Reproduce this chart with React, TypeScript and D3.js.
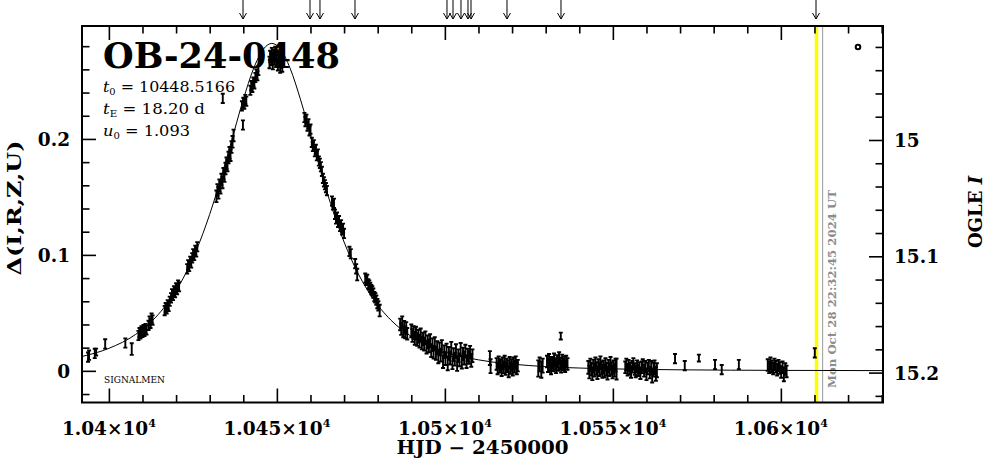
import React, { useEffect, useRef } from 'react';
import * as d3 from 'd3';

type Pt = [number, number, number]; // HJD-2450000, delta flux, sigma

// axis data
const xDomain = [10392, 10630.4];
const deltaDomain = [-0.0273, 0.2974];
const magDomain = [14.902, 15.2257];
const xMajor = [10400, 10450, 10500, 10550, 10600];
const xMajorLabels = ['1.04', '1.045', '1.05', '1.055', '1.06'];
const deltaMajor = [0, 0.1, 0.2];
const deltaLabels = ['0', '0.1', '0.2'];
const magMajor = [15.0, 15.1, 15.2];
const magLabels = ['15', '15.1', '15.2'];

const alertHjd = [10439.92, 10459.86, 10462.83, 10473.25, 10500.63, 10502.42, 10504.8, 10506.88, 10507.78, 10518.49, 10534.56, 10610.46];
const lastObsHjd = 10610.6;
const nowHjd = 10612.44;

const eventName = 'OB-24-0448';
const t0Text = '10448.5166';
const tEText = '18.20';
const u0Text = '1.093';
const stampText = 'Mon Oct 28 22:32:45 2024 UT';

// model light curve
const modelHjd = [10392, 10400, 10408, 10414, 10420, 10424, 10428, 10432, 10436, 10440, 10443, 10446, 10448.5, 10451, 10454, 10457, 10461, 10465, 10469, 10473, 10478, 10484, 10490, 10500, 10510, 10525, 10545, 10570, 10600, 10630.4];
const modelDelta = [0.0124, 0.0194, 0.0315, 0.0464, 0.0692, 0.0907, 0.1185, 0.153, 0.193, 0.234, 0.2602, 0.2775, 0.2824, 0.2777, 0.2605, 0.2343, 0.1933, 0.1533, 0.1187, 0.0909, 0.0649, 0.0436, 0.0297, 0.0163, 0.0095, 0.0046, 0.002, 0.0009, 0.0004, 0.0002];

const riseEarly: Pt[] = [
  [10393.8, 0.0118, 0.004], [10394.1, 0.0135, 0.004], [10395.8, 0.015, 0.004], [10396.2, 0.0162, 0.003],
  [10398.9, 0.0232, 0.004], [10404.9, 0.024, 0.004], [10406.8, 0.0188, 0.005],
  [10408.8, 0.0305, 0.004], [10409.1, 0.033, 0.004], [10409.4, 0.0318, 0.004], [10409.7, 0.0345, 0.004],
  [10410.0, 0.0332, 0.004], [10410.3, 0.0356, 0.004], [10410.6, 0.034, 0.004], [10410.9, 0.0365, 0.004],
  [10411.2, 0.0352, 0.004], [10411.8, 0.0392, 0.004], [10412.1, 0.043, 0.004], [10412.4, 0.041, 0.004],
  [10412.7, 0.0455, 0.004], [10413.0, 0.0438, 0.004],
];

const riseMid: Pt[] = [
  [10416.6, 0.052, 0.004], [10416.9, 0.0545, 0.004], [10417.2, 0.0535, 0.004], [10417.5, 0.057, 0.004],
  [10417.8, 0.0555, 0.004], [10418.1, 0.06, 0.004], [10418.5, 0.063, 0.004], [10418.8, 0.0665, 0.004],
  [10419.1, 0.065, 0.004], [10419.4, 0.069, 0.004], [10419.7, 0.0675, 0.004], [10420.0, 0.0715, 0.004],
  [10420.3, 0.07, 0.004], [10420.6, 0.074, 0.004], [10420.9, 0.0725, 0.004],
  [10423.3, 0.088, 0.004], [10423.6, 0.0915, 0.004], [10423.9, 0.09, 0.004], [10424.2, 0.0945, 0.004],
  [10424.5, 0.093, 0.004], [10424.8, 0.0975, 0.004], [10425.1, 0.101, 0.004], [10425.4, 0.0995, 0.004],
  [10425.7, 0.104, 0.004], [10426.0, 0.1025, 0.004], [10426.3, 0.107, 0.004],
];

const riseLate: Pt[] = [
  [10432.0, 0.1505, 0.005], [10432.3, 0.156, 0.005], [10432.6, 0.1535, 0.005], [10432.9, 0.16, 0.005],
  [10433.2, 0.158, 0.005], [10433.5, 0.165, 0.005], [10433.8, 0.1625, 0.005], [10434.1, 0.17, 0.005],
  [10434.4, 0.168, 0.005], [10434.7, 0.1745, 0.005], [10435.0, 0.179, 0.005], [10435.3, 0.177, 0.005],
  [10435.6, 0.184, 0.005], [10435.9, 0.188, 0.005], [10436.2, 0.186, 0.005], [10436.5, 0.193, 0.005],
  [10436.8, 0.1975, 0.005], [10437.1, 0.203, 0.005], [10433.9, 0.235, 0.004],
  [10439.6, 0.2285, 0.004], [10439.9, 0.212, 0.004], [10440.0, 0.2315, 0.004], [10440.3, 0.23, 0.004],
  [10440.6, 0.234, 0.004], [10440.9, 0.2325, 0.004],
  [10442.1, 0.242, 0.004], [10442.4, 0.246, 0.004], [10442.7, 0.2445, 0.004], [10443.0, 0.249, 0.004],
  [10443.3, 0.2475, 0.004], [10443.6, 0.253, 0.004], [10443.9, 0.256, 0.004], [10444.2, 0.2545, 0.004],
  [10444.5, 0.259, 0.004],
];

const peak: Pt[] = [
  [10447.8, 0.266, 0.005], [10448.0, 0.271, 0.005], [10448.3, 0.2685, 0.005], [10448.5, 0.2735, 0.005],
  [10448.8, 0.265, 0.005], [10449.0, 0.272, 0.005], [10449.3, 0.269, 0.005], [10449.5, 0.2745, 0.005],
  [10449.8, 0.267, 0.005], [10450.0, 0.2715, 0.005], [10450.3, 0.264, 0.005], [10450.5, 0.27, 0.005],
  [10450.8, 0.2675, 0.005], [10451.0, 0.262, 0.005], [10451.3, 0.2665, 0.005], [10451.6, 0.263, 0.005],
];

const fall: Pt[] = [
  [10458.2, 0.2185, 0.004], [10458.5, 0.215, 0.004], [10458.8, 0.217, 0.004], [10459.1, 0.211, 0.004],
  [10459.4, 0.213, 0.004], [10459.7, 0.207, 0.004], [10460.0, 0.2085, 0.004],
  [10460.4, 0.197, 0.004], [10460.7, 0.1935, 0.004], [10461.0, 0.195, 0.004], [10461.3, 0.189, 0.004],
  [10461.6, 0.191, 0.004], [10461.9, 0.1855, 0.004], [10462.2, 0.187, 0.004], [10462.5, 0.181, 0.004],
  [10462.8, 0.179, 0.004], [10463.1, 0.176, 0.004], [10463.4, 0.172, 0.004], [10463.7, 0.166, 0.004],
  [10464.0, 0.163, 0.004], [10464.3, 0.1605, 0.004], [10464.6, 0.158, 0.004], [10464.9, 0.1555, 0.004],
  [10466.4, 0.1465, 0.004], [10466.7, 0.143, 0.004], [10467.0, 0.1445, 0.004], [10467.3, 0.135, 0.004],
  [10467.6, 0.131, 0.004], [10467.9, 0.1325, 0.004], [10468.2, 0.128, 0.004], [10468.5, 0.1295, 0.004],
  [10468.8, 0.1245, 0.004], [10469.1, 0.126, 0.004], [10469.4, 0.1215, 0.004], [10469.7, 0.123, 0.004],
  [10470.0, 0.1185, 0.004],
  [10471.6, 0.103, 0.004], [10472.0, 0.101, 0.004], [10473.3, 0.0925, 0.004], [10473.6, 0.088, 0.004],
  [10473.9, 0.083, 0.005],
  [10476.3, 0.08, 0.004], [10476.6, 0.078, 0.004], [10476.9, 0.079, 0.004], [10477.2, 0.075, 0.004],
  [10477.5, 0.074, 0.004], [10477.8, 0.072, 0.004], [10478.1, 0.07, 0.004], [10478.4, 0.069, 0.004],
  [10478.7, 0.067, 0.004], [10479.0, 0.064, 0.004], [10479.3, 0.063, 0.004], [10479.6, 0.061, 0.004],
  [10479.9, 0.058, 0.004], [10480.2, 0.056, 0.004], [10480.6, 0.052, 0.005],
];

const tailNear: Pt[] = [
  [10486.7, 0.04, 0.005], [10487.0, 0.036, 0.005], [10487.3, 0.042, 0.005], [10487.6, 0.034, 0.005],
  [10487.9, 0.038, 0.005], [10488.2, 0.033, 0.005], [10488.5, 0.037, 0.005], [10488.8, 0.032, 0.005],
  [10490.0, 0.0345, 0.0055], [10490.35, 0.0305, 0.0055], [10490.7, 0.033, 0.0055], [10491.05, 0.028, 0.0055],
  [10491.4, 0.0325, 0.0055], [10491.75, 0.027, 0.0055], [10492.1, 0.03, 0.0055], [10492.45, 0.0255, 0.0055],
  [10492.8, 0.031, 0.0055], [10493.15, 0.024, 0.0055], [10493.5, 0.0275, 0.0055], [10493.85, 0.023, 0.0055],
  [10494.2, 0.0285, 0.0055], [10494.55, 0.0205, 0.0055], [10494.9, 0.025, 0.0055], [10495.25, 0.0215, 0.0055],
  [10495.6, 0.026, 0.0055], [10495.95, 0.0175, 0.0055], [10496.3, 0.0225, 0.0055], [10496.65, 0.016, 0.0055],
  [10497.0, 0.0235, 0.0055], [10497.35, 0.015, 0.0055], [10497.7, 0.02, 0.0055], [10498.05, 0.012, 0.0055],
  [10498.4, 0.019, 0.0055], [10498.75, 0.0135, 0.0055], [10499.1, 0.021, 0.0055], [10499.45, 0.008, 0.0055],
  [10499.8, 0.0165, 0.0055], [10500.15, 0.0105, 0.0055], [10500.5, 0.018, 0.0055], [10500.85, 0.006, 0.0055],
  [10501.2, 0.015, 0.0055], [10501.55, 0.011, 0.0055], [10501.9, 0.0195, 0.0055], [10502.25, 0.007, 0.0055],
  [10502.6, 0.014, 0.0055], [10502.95, 0.01, 0.0055], [10503.3, 0.0175, 0.0055], [10503.65, 0.0055, 0.0055],
  [10504.0, 0.013, 0.0055], [10504.35, 0.0095, 0.0055], [10504.7, 0.0185, 0.0055], [10505.05, 0.0075, 0.0055],
  [10505.4, 0.0145, 0.0055], [10505.75, 0.011, 0.0055], [10506.1, 0.017, 0.0055], [10506.45, 0.008, 0.0055],
  [10506.8, 0.0135, 0.0055], [10507.15, 0.0115, 0.0055], [10507.5, 0.016, 0.0055], [10507.85, 0.009, 0.0055],
  [10508.2, 0.013, 0.0055],
];

const tailFar: Pt[] = [
  [10513.4, 0.011, 0.006], [10513.6, 0.004, 0.006],
  [10515.4, 0.006, 0.005], [10515.7, 0.002, 0.005], [10516.0, 0.0075, 0.005], [10516.3, 0.0035, 0.005],
  [10516.6, 0.005, 0.005], [10516.9, 0.0005, 0.005], [10517.2, 0.0065, 0.005], [10517.5, 0.003, 0.005],
  [10517.8, 0.008, 0.005], [10518.1, 0.0015, 0.005], [10518.4, 0.0055, 0.005], [10518.7, 0.004, 0.005],
  [10519.0, -0.0005, 0.005], [10519.3, 0.007, 0.005], [10519.6, 0.0025, 0.005], [10519.9, 0.005, 0.005],
  [10520.2, 0.001, 0.005], [10520.5, 0.0065, 0.005], [10520.8, 0.0035, 0.005], [10521.1, 0.0075, 0.005],
  [10521.4, 0.002, 0.005], [10521.7, 0.0045, 0.005],
  [10527.8, 0.002, 0.007], [10528.2, 0.0055, 0.006], [10528.7, 0.001, 0.007], [10529.1, 0.0045, 0.006],
  [10530.4, 0.008, 0.005], [10530.7, 0.004, 0.005], [10531.0, 0.0095, 0.005], [10531.3, 0.0055, 0.005],
  [10531.6, 0.002, 0.005], [10531.9, 0.007, 0.005], [10532.2, 0.0045, 0.005], [10532.5, 0.01, 0.005],
  [10532.8, 0.006, 0.005], [10533.1, 0.003, 0.005], [10533.4, 0.0085, 0.005], [10533.7, 0.005, 0.005],
  [10534.0, 0.011, 0.005], [10534.3, 0.0065, 0.005], [10534.6, 0.0035, 0.005], [10534.9, 0.009, 0.005],
  [10535.2, 0.0055, 0.005], [10535.5, 0.0075, 0.005], [10535.8, 0.004, 0.005], [10536.1, 0.008, 0.005],
  [10536.5, 0.006, 0.005], [10534.5, 0.03, 0.003],
  [10542.7, 0.003, 0.0055], [10543.0, -0.001, 0.0055], [10543.3, 0.005, 0.0055], [10543.6, 0.0015, 0.0055],
  [10543.9, -0.0025, 0.0055], [10544.2, 0.004, 0.0055], [10544.5, 0.0005, 0.0055], [10544.8, 0.006, 0.0055],
  [10545.1, 0.002, 0.0055], [10545.4, -0.0015, 0.0055], [10545.7, 0.0045, 0.0055], [10546.0, 0.001, 0.0055],
  [10546.3, 0.007, 0.0055], [10546.6, 0.0025, 0.0055], [10546.9, -0.0005, 0.0055], [10547.2, 0.0035, 0.0055],
  [10547.5, 0.0, 0.0055], [10547.8, 0.0055, 0.0055], [10548.1, 0.0015, 0.0055], [10548.4, -0.002, 0.0055],
  [10548.7, 0.004, 0.0055], [10549.0, 0.001, 0.0055], [10549.3, 0.0065, 0.0055], [10549.6, 0.002, 0.0055],
  [10549.9, -0.001, 0.0055], [10550.2, 0.0035, 0.0055], [10550.5, 0.0005, 0.0055], [10550.8, 0.005, 0.0055],
  [10551.1, 0.0015, 0.009],
  [10553.7, 0.003, 0.005], [10554.0, 0.0055, 0.005], [10554.4, 0.001, 0.005], [10554.7, 0.0045, 0.005],
  [10555.1, 0.002, 0.005], [10555.4, -0.001, 0.005], [10555.8, 0.0035, 0.005], [10556.1, 0.006, 0.005],
  [10556.5, 0.0015, 0.005], [10556.8, -0.0005, 0.005], [10557.2, 0.004, 0.005], [10557.5, 0.0005, 0.005],
  [10557.9, 0.0025, 0.005], [10558.2, -0.002, 0.005], [10558.6, 0.003, 0.005], [10558.9, 0.005, 0.005],
  [10559.3, 0.0, 0.005], [10559.6, 0.0035, 0.005], [10560.0, -0.003, 0.005], [10560.3, 0.002, 0.005],
  [10560.7, 0.0045, 0.005], [10561.0, -0.0015, 0.005], [10561.4, 0.0025, 0.006], [10561.7, -0.004, 0.006],
  [10562.1, 0.001, 0.006], [10562.4, 0.003, 0.006], [10562.8, -0.0025, 0.006], [10563.1, 0.0005, 0.006],
  [10568.5, 0.0105, 0.004], [10571.4, 0.0045, 0.004], [10575.6, 0.011, 0.003], [10580.4, 0.0055, 0.004],
  [10582.4, 0.001, 0.004], [10587.5, 0.0055, 0.004],
  [10596.1, 0.005, 0.005], [10596.5, 0.003, 0.005], [10596.9, 0.0065, 0.005], [10597.3, 0.004, 0.005],
  [10597.7, 0.002, 0.005], [10598.1, 0.0055, 0.005], [10598.5, 0.0035, 0.005], [10598.9, 0.001, 0.005],
  [10599.3, 0.0045, 0.005], [10599.7, 0.0025, 0.005], [10600.1, -0.001, 0.005], [10600.5, 0.003, 0.005],
  [10600.9, -0.003, 0.006], [10601.3, 0.0015, 0.005], [10601.7, -0.0005, 0.005],
  [10610.1, 0.0155, 0.004],
];

const W = 986;
const H = 459;
const frame = { left: 82, right: 883, top: 26, bottom: 402.5 };
const serif = "'DejaVu Serif', 'Liberation Serif', serif";

const App: React.FC = () => {
  const svgRef = useRef<SVGSVGElement>(null);

  useEffect(() => {
    if (!svgRef.current) return;
    const svg = d3.select(svgRef.current);
    svg.selectAll('*').remove();

    const x = d3.scaleLinear().domain(xDomain).range([frame.left, frame.right]);
    const y = d3.scaleLinear().domain(deltaDomain).range([frame.bottom, frame.top]);
    const yMag = d3.scaleLinear().domain(magDomain).range([frame.top, frame.bottom]);

    svg.append('rect').attr('width', W).attr('height', H).attr('fill', '#fff');

    // highlight + "now" lines
    svg.append('line')
      .attr('x1', x(lastObsHjd)).attr('x2', x(lastObsHjd))
      .attr('y1', frame.top).attr('y2', frame.bottom)
      .attr('stroke', '#ffff00').attr('stroke-width', 3.5);
    svg.append('line')
      .attr('x1', x(nowHjd)).attr('x2', x(nowHjd))
      .attr('y1', frame.top).attr('y2', frame.bottom)
      .attr('stroke', '#999').attr('stroke-width', 1);

    svg.append('text')
      .attr('transform', `translate(836,388) rotate(-90)`)
      .attr('font-family', serif).attr('font-weight', 'bold').attr('font-size', 11.5)
      .attr('fill', '#8c8c8c')
      .attr('textLength', 198).attr('lengthAdjust', 'spacingAndGlyphs')
      .text(stampText);

    // title and parameters
    svg.append('text')
      .attr('x', 103).attr('y', 68)
      .attr('font-family', serif).attr('font-weight', 'bold').attr('font-size', 35)
      .attr('textLength', 237).attr('lengthAdjust', 'spacingAndGlyphs')
      .text(eventName);

    const params = [
      { sym: 't', sub: '0', val: ` = ${t0Text}`, y: 92, len: 132 },
      { sym: 't', sub: 'E', val: ` = ${tEText} d`, y: 114, len: 102 },
      { sym: 'u', sub: '0', val: ` = ${u0Text}`, y: 136, len: 87 },
    ];
    params.forEach(p => {
      const t = svg.append('text')
        .attr('x', 103).attr('y', p.y)
        .attr('font-family', serif).attr('font-size', 14.5)
        .attr('textLength', p.len).attr('lengthAdjust', 'spacingAndGlyphs');
      t.append('tspan').attr('font-style', 'italic').text(p.sym);
      t.append('tspan').attr('font-size', 9).attr('dy', 3).text(p.sub);
      t.append('tspan').attr('dy', -3).text(p.val);
    });

    svg.append('text')
      .attr('x', 104).attr('y', 383)
      .attr('font-family', serif).attr('font-size', 9.5)
      .attr('textLength', 61).attr('lengthAdjust', 'spacingAndGlyphs')
      .text('SIGNALMEN');

    // model curve
    const line = d3.line<number>()
      .x((_, i) => x(modelHjd[i]))
      .y(d => y(d))
      .curve(d3.curveMonotoneX);
    svg.append('path')
      .datum(modelDelta)
      .attr('fill', 'none')
      .attr('stroke', '#000')
      .attr('stroke-width', 1)
      .attr('d', line);

    // data with error bars
    const allPts = [...riseEarly, ...riseMid, ...riseLate, ...peak, ...fall, ...tailNear, ...tailFar];
    svg.append('g')
      .selectAll('path')
      .data(allPts)
      .join('path')
      .attr('fill', 'none')
      .attr('stroke', '#000')
      .attr('stroke-width', 1.9)
      .attr('d', d => {
        const cx = x(d[0]);
        const y1 = y(d[1] + d[2]);
        const y2 = y(d[1] - d[2]);
        return `M${cx - 2},${y1}H${cx + 2}M${cx},${y1}V${y2}M${cx - 2},${y2}H${cx + 2}`;
      });

    // axes: ticks inward, PGPLOT-style
    const major = 14;
    const minor = 7.5;
    const xMinor = d3.range(10400, 10631, 10).filter(v => !xMajor.includes(v));
    const dMinor = d3.range(-2, 29, 2).map(v => v / 100).filter(v => !deltaMajor.some(m => Math.abs(m - v) < 1e-9));
    const mMinor = d3.range(1492, 1523, 2).map(v => v / 100).filter(v => !magMajor.some(m => Math.abs(m - v) < 1e-9));

    const axes: [any, string][] = [
      [d3.axisBottom(x).tickValues(xMajor).tickSize(-major), `translate(0,${frame.bottom})`],
      [d3.axisBottom(x).tickValues(xMinor).tickSize(-minor), `translate(0,${frame.bottom})`],
      [d3.axisTop(x).tickValues(xMajor).tickSize(-major), `translate(0,${frame.top})`],
      [d3.axisTop(x).tickValues(xMinor).tickSize(-minor), `translate(0,${frame.top})`],
      [d3.axisLeft(y).tickValues(deltaMajor).tickSize(-major), `translate(${frame.left},0)`],
      [d3.axisLeft(y).tickValues(dMinor).tickSize(-minor), `translate(${frame.left},0)`],
      [d3.axisRight(yMag).tickValues(magMajor).tickSize(-major), `translate(${frame.right},0)`],
      [d3.axisRight(yMag).tickValues(mMinor).tickSize(-minor), `translate(${frame.right},0)`],
    ];
    axes.forEach(([ax, tr]) => {
      const g = svg.append('g').attr('transform', tr).call(ax.tickFormat(() => ''));
      g.select('.domain').remove();
      g.selectAll('line').attr('stroke', '#000').attr('stroke-width', 1.6);
    });

    svg.append('rect')
      .attr('x', frame.left).attr('y', frame.top)
      .attr('width', frame.right - frame.left).attr('height', frame.bottom - frame.top)
      .attr('fill', 'none').attr('stroke', '#000').attr('stroke-width', 2);

    // OGLE symbol key
    svg.append('circle')
      .attr('cx', 858).attr('cy', 47).attr('r', 2.3)
      .attr('fill', '#fff').attr('stroke', '#000').attr('stroke-width', 2);

    // tick labels
    xMajor.forEach((v, i) => {
      const t = svg.append('text')
        .attr('x', x(v)).attr('y', 435)
        .attr('text-anchor', 'middle')
        .attr('font-family', serif).attr('font-weight', 'bold').attr('font-size', 18.5);
      t.append('tspan').text(`${xMajorLabels[i]}\u00d710`);
      t.append('tspan').attr('font-size', 11).attr('dy', -8).text('4');
    });
    deltaMajor.forEach((v, i) => {
      svg.append('text')
        .attr('x', 70).attr('y', y(v) + 7)
        .attr('text-anchor', 'end')
        .attr('font-family', serif).attr('font-weight', 'bold').attr('font-size', 18.5)
        .text(deltaLabels[i]);
    });
    magMajor.forEach((v, i) => {
      svg.append('text')
        .attr('x', 894).attr('y', yMag(v) + 7)
        .attr('font-family', serif).attr('font-weight', 'bold').attr('font-size', 18.5)
        .text(magLabels[i]);
    });

    // axis titles
    svg.append('text')
      .attr('x', (frame.left + frame.right) / 2).attr('y', 454)
      .attr('text-anchor', 'middle')
      .attr('font-family', serif).attr('font-weight', 'bold').attr('font-size', 18)
      .attr('textLength', 172).attr('lengthAdjust', 'spacingAndGlyphs')
      .text('HJD \u2212 2450000');

    svg.append('text')
      .attr('transform', 'translate(21,208) rotate(-90)')
      .attr('text-anchor', 'middle')
      .attr('font-family', serif).attr('font-weight', 'bold').attr('font-size', 18.5)
      .attr('textLength', 135).attr('lengthAdjust', 'spacingAndGlyphs')
      .text('\u0394(I,R,Z,U)');

    const rt = svg.append('text')
      .attr('transform', 'translate(982,212) rotate(-90)')
      .attr('text-anchor', 'middle')
      .attr('font-family', serif).attr('font-weight', 'bold').attr('font-size', 18);
    rt.append('tspan').text('OGLE ');
    rt.append('tspan').attr('font-style', 'italic').text('I');

    // alert arrows above the frame
    svg.append('g')
      .selectAll('path')
      .data(alertHjd)
      .join('path')
      .attr('fill', 'none')
      .attr('stroke', '#000')
      .attr('stroke-width', 1)
      .attr('d', d => {
        const ax = x(d);
        return `M${ax},0V19M${ax - 3.5},13L${ax},19L${ax + 3.5},13`;
      });
  }, []);

  return (
    <svg
      ref={svgRef}
      width={W}
      height={H}
      style={{ position: 'absolute', left: 0, top: 0, display: 'block' }}
    />
  );
};

export default App;
